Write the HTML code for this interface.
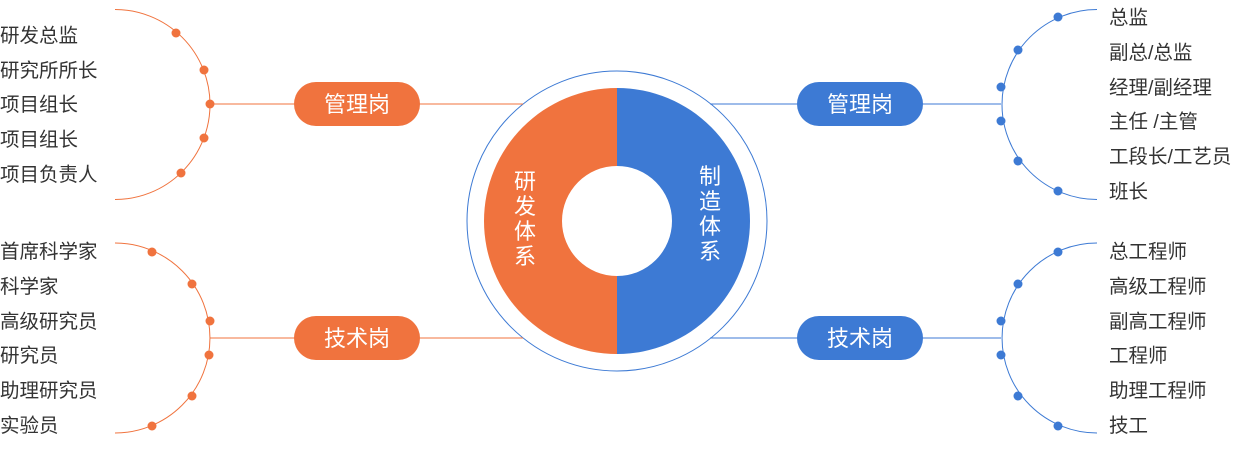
<!DOCTYPE html>
<html><head><meta charset="utf-8"><style>
html,body{margin:0;padding:0;background:#fff;}
svg{display:block;font-family:"Liberation Sans","Noto Sans CJK SC",sans-serif;}
</style></head><body>
<svg width="1234" height="456" viewBox="0 0 1234 456" xmlns="http://www.w3.org/2000/svg">
<circle cx="617" cy="221" r="150" fill="none" stroke="#3d7ad4" stroke-width="1"/>
<path d="M617 88 A133 133 0 0 0 617 354 L617 276 A55 55 0 0 1 617 166 Z" fill="#f0733e"/>
<path d="M617 88 A133 133 0 0 1 617 354 L617 276 A55 55 0 0 0 617 166 Z" fill="#3d7ad4"/>
<g fill="#fff" font-size="22" text-anchor="middle">
<text x="525" y="189">研</text><text x="525" y="214">发</text><text x="525" y="239">体</text><text x="525" y="264">系</text>
<text x="710" y="184">制</text><text x="710" y="209">造</text><text x="710" y="234">体</text><text x="710" y="259">系</text>
</g>
<g stroke="#f0733e" stroke-width="1" fill="none">
<path d="M115 9.5 A95 95 0 0 1 115 199.5"/>
<path d="M115 243 A95 95 0 0 1 115 433"/>
<line x1="210" y1="104" x2="523" y2="104"/>
<line x1="210" y1="338" x2="523" y2="338"/>
</g>
<g fill="#f0733e">
<circle cx="176" cy="33" r="4.5"/><circle cx="204" cy="70" r="4.5"/><circle cx="210" cy="104" r="4.5"/><circle cx="204" cy="138" r="4.5"/><circle cx="181" cy="173" r="4.5"/>
<circle cx="152" cy="252" r="4.5"/><circle cx="192" cy="284" r="4.5"/><circle cx="210" cy="321" r="4.5"/><circle cx="209" cy="355" r="4.5"/><circle cx="192" cy="396" r="4.5"/><circle cx="152" cy="426" r="4.5"/>
<rect x="294" y="82" width="126" height="44" rx="22"/>
<rect x="294" y="316" width="126" height="44" rx="22"/>
</g>
<g stroke="#3d7ad4" stroke-width="1" fill="none">
<path d="M1097 9.5 A95 95 0 0 0 1097 199.5"/>
<path d="M1097 243 A95 95 0 0 0 1097 433"/>
<line x1="710" y1="104" x2="1001" y2="104"/>
<line x1="710" y1="338" x2="1001" y2="338"/>
</g>
<g fill="#3d7ad4">
<circle cx="1058" cy="17" r="4.5"/><circle cx="1018" cy="50" r="4.5"/><circle cx="1001" cy="87" r="4.5"/><circle cx="1001" cy="121" r="4.5"/><circle cx="1018" cy="161" r="4.5"/><circle cx="1058" cy="191" r="4.5"/>
<circle cx="1058" cy="252" r="4.5"/><circle cx="1018" cy="284" r="4.5"/><circle cx="1001" cy="321" r="4.5"/><circle cx="1001" cy="355" r="4.5"/><circle cx="1018" cy="396" r="4.5"/><circle cx="1058" cy="426" r="4.5"/>
<rect x="797" y="82" width="126" height="44" rx="22"/>
<rect x="797" y="316" width="126" height="44" rx="22"/>
</g>
<g fill="#fff" font-size="22" text-anchor="middle">
<text x="357" y="112">管理岗</text><text x="357" y="346">技术岗</text>
<text x="860" y="112">管理岗</text><text x="860" y="346">技术岗</text>
</g>
<g fill="#333" font-size="19.5">
<text x="0" y="42">研发总监</text><text x="0" y="77">研究所所长</text><text x="0" y="111">项目组长</text><text x="0" y="146">项目组长</text><text x="0" y="181">项目负责人</text>
<text x="0" y="258">首席科学家</text><text x="0" y="293">科学家</text><text x="0" y="328">高级研究员</text><text x="0" y="362">研究员</text><text x="0" y="397">助理研究员</text><text x="0" y="432">实验员</text>
<text x="1109" y="24">总监</text><text x="1109" y="59">副总/总监</text><text x="1109" y="94">经理/副经理</text><text x="1109" y="128">主任 /主管</text><text x="1109" y="163">工段长/工艺员</text><text x="1109" y="198">班长</text>
<text x="1109" y="258">总工程师</text><text x="1109" y="293">高级工程师</text><text x="1109" y="328">副高工程师</text><text x="1109" y="362">工程师</text><text x="1109" y="397">助理工程师</text><text x="1109" y="432">技工</text>
</g>
</svg>
</body></html>
